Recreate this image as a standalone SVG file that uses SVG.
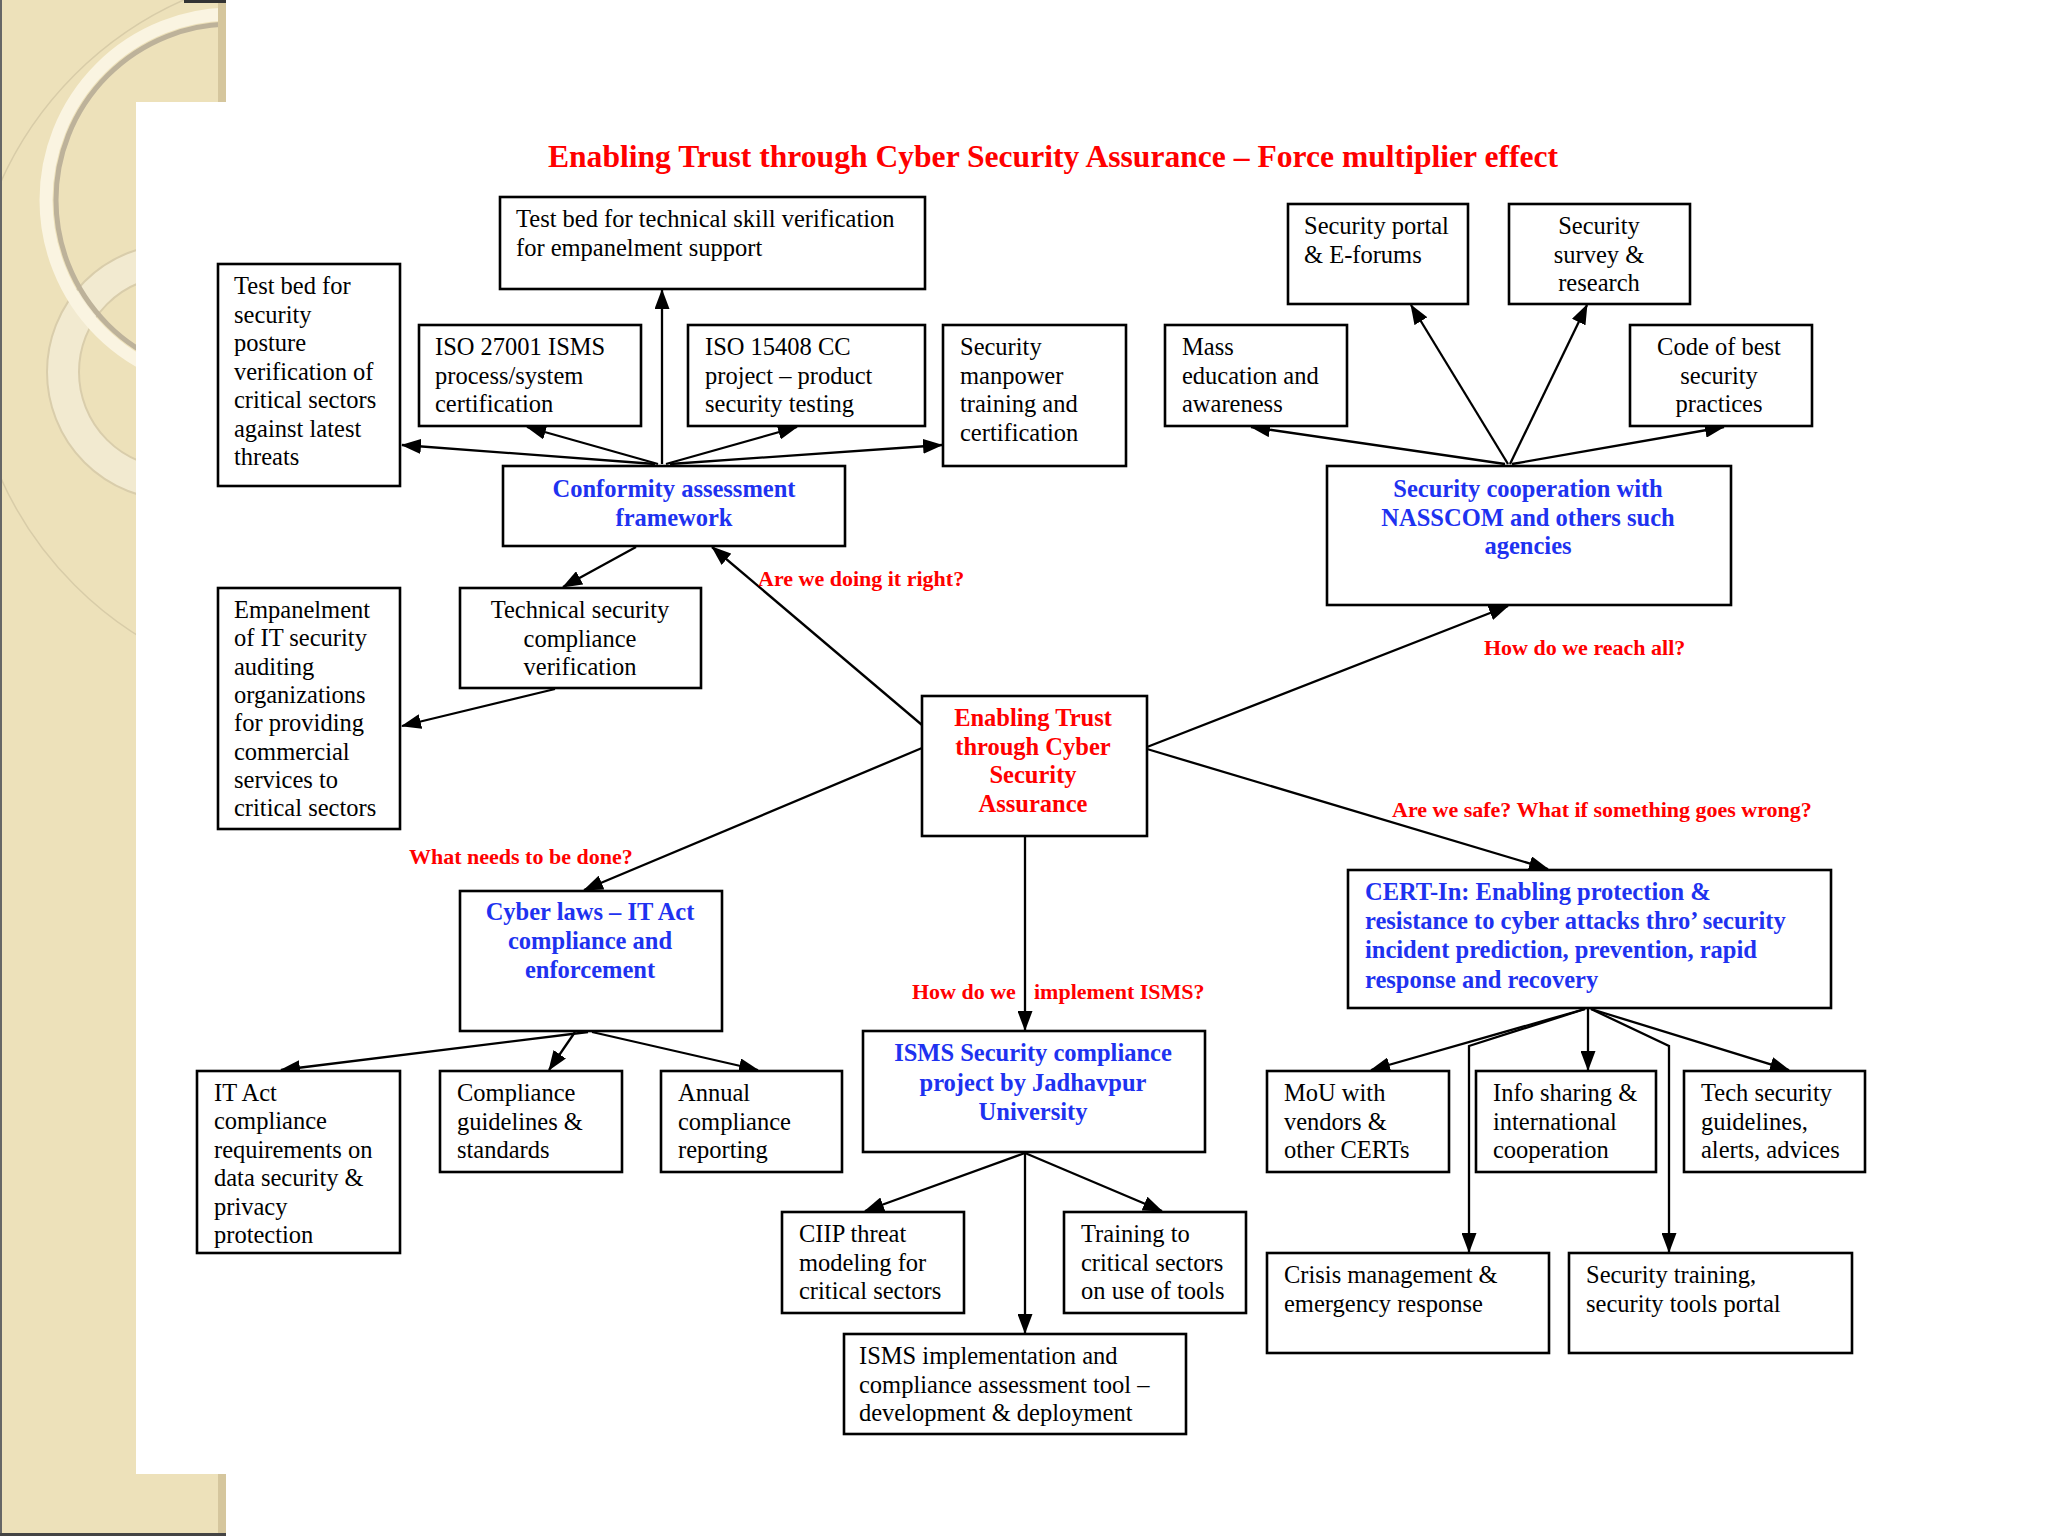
<svg xmlns="http://www.w3.org/2000/svg" width="2048" height="1536" viewBox="0 0 2048 1536">
<defs>
<style>
.box{fill:#fff;stroke:#000;stroke-width:2.6}
.t{font-family:"Liberation Serif","Times New Roman",serif;font-size:24.5px;fill:#000}
.c{text-anchor:middle}
.blue{font-family:"Liberation Serif","Times New Roman",serif;font-size:24.5px;font-weight:bold;fill:#1E32F0}
.red{font-family:"Liberation Serif","Times New Roman",serif;font-size:24.5px;font-weight:bold;fill:#F00}
.lbl{font-family:"Liberation Serif","Times New Roman",serif;font-size:22px;font-weight:bold;fill:#F00}
.con line,.con polyline{stroke:#000;stroke-width:2.3;fill:none;marker-end:url(#ah)}
</style>
<marker id="ah" viewBox="0 0 20 15" refX="19" refY="7.5" markerWidth="20" markerHeight="15" markerUnits="userSpaceOnUse" orient="auto"><path d="M0,0 L20,7.5 L0,15 z" fill="#000"/></marker>
<clipPath id="bg"><rect x="0" y="0" width="226" height="1536"/></clipPath>
</defs>
<rect x="0" y="0" width="2048" height="1536" fill="#fff"/>
<g id="background">
<rect x="0" y="0" width="226" height="1536" fill="#EDE1BA"/>
<g clip-path="url(#bg)" fill="none">
<circle cx="330" cy="330" r="361" stroke="#D8CCA8" stroke-width="1.5"/>
<circle cx="175" cy="372" r="112" stroke="#F2EAD0" stroke-width="32"/>
<circle cx="175" cy="372" r="128" stroke="#D9CDAB" stroke-width="2"/>
<circle cx="175" cy="372" r="96" stroke="#D9CDAB" stroke-width="2"/>
<circle cx="232" cy="200" r="186" stroke="#FAF4E1" stroke-width="13"/>
<circle cx="232" cy="200" r="176" stroke="#BDB29A" stroke-width="5"/>
</g>
<rect x="218" y="0" width="8" height="102" fill="#D5C69D"/>
<rect x="218" y="1474" width="8" height="62" fill="#D5C69D"/>
<rect x="184" y="0" width="42" height="3" fill="#333"/>
<rect x="0" y="0" width="2" height="1536" fill="#666"/>
<rect x="0" y="1533" width="226" height="3" fill="#444"/>
<rect x="136" y="102" width="1912" height="1372" fill="#fff"/>
</g>
<text id="title" x="1053" y="167" text-anchor="middle" font-family="Liberation Serif,Times New Roman,serif" font-size="31.6" font-weight="bold" fill="#F00">Enabling Trust through Cyber Security Assurance – Force multiplier effect</text>
<g id="connectors" class="con">
<line x1="662" y1="464" x2="662" y2="290"/>
<line x1="655" y1="464" x2="402" y2="445"/>
<line x1="658" y1="464" x2="527" y2="427"/>
<line x1="666" y1="464" x2="797" y2="427"/>
<line x1="670" y1="464" x2="942" y2="445"/>
<line x1="636" y1="547" x2="563" y2="587"/>
<line x1="555" y1="689" x2="402" y2="726"/>
<line x1="922" y1="725" x2="712" y2="547"/>
<line x1="922" y1="748" x2="584" y2="890"/>
<line x1="1147" y1="747" x2="1508" y2="606"/>
<line x1="1147" y1="749" x2="1548" y2="869"/>
<line x1="1025" y1="836" x2="1025" y2="1030"/>
<line x1="1505" y1="464" x2="1251" y2="427"/>
<line x1="1508" y1="464" x2="1411" y2="305"/>
<line x1="1510" y1="464" x2="1587" y2="305"/>
<line x1="1512" y1="464" x2="1724" y2="427"/>
<line x1="588" y1="1032" x2="281" y2="1070"/>
<line x1="575" y1="1032" x2="549" y2="1070"/>
<line x1="592" y1="1032" x2="758" y2="1070"/>
<line x1="1025" y1="1153" x2="865" y2="1211"/>
<line x1="1025" y1="1153" x2="1025" y2="1333"/>
<line x1="1025" y1="1153" x2="1162" y2="1211"/>
<line x1="1585" y1="1009" x2="1371" y2="1070"/>
<line x1="1588" y1="1009" x2="1588" y2="1070"/>
<line x1="1591" y1="1009" x2="1789" y2="1070"/>
<polyline points="1585,1009 1469,1046 1469,1252"/>
<polyline points="1591,1009 1669,1046 1669,1252"/>
</g>
<g id="labels">
<text class="lbl" x="758" y="586">Are we doing it right?</text>
<text class="lbl" x="1484" y="655">How do we reach all?</text>
<text class="lbl" x="409" y="864">What needs to be done?</text>
<text class="lbl" x="1392" y="817">Are we safe? What if something goes wrong?</text>
<text class="lbl" x="912" y="999">How do we</text>
<text class="lbl" x="1034" y="999">implement ISMS?</text>
</g>
<g id="n-techskill"><rect class="box" x="500" y="197" width="425" height="92"/>
<text class="t" x="516" y="227">Test bed for technical skill verification<tspan x="516" dy="28.5">for empanelment support</tspan></text></g>
<g id="n-posture"><rect class="box" x="218" y="264" width="182" height="222"/>
<text class="t" x="234" y="294">Test bed for<tspan x="234" dy="28.5">security</tspan><tspan x="234" dy="28.5">posture</tspan><tspan x="234" dy="28.5">verification of</tspan><tspan x="234" dy="28.5">critical sectors</tspan><tspan x="234" dy="28.5">against latest</tspan><tspan x="234" dy="28.5">threats</tspan></text></g>
<g id="n-iso27001"><rect class="box" x="419" y="325" width="222" height="101"/>
<text class="t" x="435" y="355">ISO 27001 ISMS<tspan x="435" dy="28.5">process/system</tspan><tspan x="435" dy="28.5">certification</tspan></text></g>
<g id="n-iso15408"><rect class="box" x="688" y="325" width="237" height="101"/>
<text class="t" x="705" y="355">ISO 15408 CC<tspan x="705" dy="28.5">project – product</tspan><tspan x="705" dy="28.5">security testing</tspan></text></g>
<g id="n-manpower"><rect class="box" x="943" y="325" width="183" height="141"/>
<text class="t" x="960" y="355">Security<tspan x="960" dy="28.5">manpower</tspan><tspan x="960" dy="28.5">training and</tspan><tspan x="960" dy="28.5">certification</tspan></text></g>
<g id="n-conformity"><rect class="box" x="503" y="466" width="342" height="80"/>
<text class="blue c" x="674" y="497">Conformity assessment<tspan x="674" dy="28.5">framework</tspan></text></g>
<g id="n-techsec"><rect class="box" x="460" y="588" width="241" height="100"/>
<text class="t c" x="580" y="618">Technical security<tspan x="580" dy="28.5">compliance</tspan><tspan x="580" dy="28.5">verification</tspan></text></g>
<g id="n-empanel"><rect class="box" x="218" y="588" width="182" height="241"/>
<text class="t" x="234" y="618">Empanelment<tspan x="234" dy="28.3">of IT security</tspan><tspan x="234" dy="28.3">auditing</tspan><tspan x="234" dy="28.3">organizations</tspan><tspan x="234" dy="28.3">for providing</tspan><tspan x="234" dy="28.3">commercial</tspan><tspan x="234" dy="28.3">services to</tspan><tspan x="234" dy="28.3">critical sectors</tspan></text></g>
<g id="n-center"><rect class="box" x="922" y="696" width="225" height="140"/>
<text class="red c" x="1033" y="726">Enabling Trust<tspan x="1033" dy="28.7">through Cyber</tspan><tspan x="1033" dy="28.7">Security</tspan><tspan x="1033" dy="28.7">Assurance</tspan></text></g>
<g id="n-portal"><rect class="box" x="1288" y="204" width="180" height="100"/>
<text class="t" x="1304" y="234">Security portal<tspan x="1304" dy="28.5">&amp; E-forums</tspan></text></g>
<g id="n-survey"><rect class="box" x="1509" y="204" width="181" height="100"/>
<text class="t c" x="1599" y="234">Security<tspan x="1599" dy="28.5">survey &amp;</tspan><tspan x="1599" dy="28.5">research</tspan></text></g>
<g id="n-mass"><rect class="box" x="1165" y="325" width="182" height="101"/>
<text class="t" x="1182" y="355">Mass<tspan x="1182" dy="28.5">education and</tspan><tspan x="1182" dy="28.5">awareness</tspan></text></g>
<g id="n-code"><rect class="box" x="1630" y="325" width="182" height="101"/>
<text class="t c" x="1719" y="355">Code of best<tspan x="1719" dy="28.5">security</tspan><tspan x="1719" dy="28.5">practices</tspan></text></g>
<g id="n-nasscom"><rect class="box" x="1327" y="466" width="404" height="139"/>
<text class="blue c" x="1528" y="497">Security cooperation with<tspan x="1528" dy="28.5">NASSCOM and others such</tspan><tspan x="1528" dy="28.5">agencies</tspan></text></g>
<g id="n-cyberlaws"><rect class="box" x="460" y="891" width="262" height="140"/>
<text class="blue c" x="590" y="920">Cyber laws – IT Act<tspan x="590" dy="29">compliance and</tspan><tspan x="590" dy="29">enforcement</tspan></text></g>
<g id="n-itact"><rect class="box" x="197" y="1071" width="203" height="182"/>
<text class="t" x="214" y="1101">IT Act<tspan x="214" dy="28.4">compliance</tspan><tspan x="214" dy="28.4">requirements on</tspan><tspan x="214" dy="28.4">data security &amp;</tspan><tspan x="214" dy="28.4">privacy</tspan><tspan x="214" dy="28.4">protection</tspan></text></g>
<g id="n-guidelines"><rect class="box" x="440" y="1071" width="182" height="101"/>
<text class="t" x="457" y="1101">Compliance<tspan x="457" dy="28.5">guidelines &amp;</tspan><tspan x="457" dy="28.5">standards</tspan></text></g>
<g id="n-annual"><rect class="box" x="661" y="1071" width="181" height="101"/>
<text class="t" x="678" y="1101">Annual<tspan x="678" dy="28.5">compliance</tspan><tspan x="678" dy="28.5">reporting</tspan></text></g>
<g id="n-isms"><rect class="box" x="863" y="1031" width="342" height="121"/>
<text class="blue c" x="1033" y="1061">ISMS Security compliance<tspan x="1033" dy="29.5">project by Jadhavpur</tspan><tspan x="1033" dy="29.5">University</tspan></text></g>
<g id="n-ciip"><rect class="box" x="782" y="1212" width="182" height="101"/>
<text class="t" x="799" y="1242">CIIP threat<tspan x="799" dy="28.5">modeling for</tspan><tspan x="799" dy="28.5">critical sectors</tspan></text></g>
<g id="n-training"><rect class="box" x="1064" y="1212" width="182" height="101"/>
<text class="t" x="1081" y="1242">Training to<tspan x="1081" dy="28.5">critical sectors</tspan><tspan x="1081" dy="28.5">on use of tools</tspan></text></g>
<g id="n-ismsimpl"><rect class="box" x="844" y="1334" width="342" height="100"/>
<text class="t" x="859" y="1364">ISMS implementation and<tspan x="859" dy="28.5">compliance assessment tool –</tspan><tspan x="859" dy="28.5">development &amp; deployment</tspan></text></g>
<g id="n-cert"><rect class="box" x="1348" y="870" width="483" height="138"/>
<text class="blue" x="1365" y="900">CERT-In: Enabling protection &amp;<tspan x="1365" dy="29">resistance to cyber attacks thro’ security</tspan><tspan x="1365" dy="29">incident prediction, prevention, rapid</tspan><tspan x="1365" dy="30">response and recovery</tspan></text></g>
<g id="n-mou"><rect class="box" x="1267" y="1071" width="182" height="101"/>
<text class="t" x="1284" y="1101">MoU with<tspan x="1284" dy="28.5">vendors &amp;</tspan><tspan x="1284" dy="28.5">other CERTs</tspan></text></g>
<g id="n-info"><rect class="box" x="1476" y="1071" width="180" height="101"/>
<text class="t" x="1493" y="1101">Info sharing &amp;<tspan x="1493" dy="28.5">international</tspan><tspan x="1493" dy="28.5">cooperation</tspan></text></g>
<g id="n-techguide"><rect class="box" x="1684" y="1071" width="181" height="101"/>
<text class="t" x="1701" y="1101">Tech security<tspan x="1701" dy="28.5">guidelines,</tspan><tspan x="1701" dy="28.5">alerts, advices</tspan></text></g>
<g id="n-crisis"><rect class="box" x="1267" y="1253" width="282" height="100"/>
<text class="t" x="1284" y="1283">Crisis management &amp;<tspan x="1284" dy="29">emergency response</tspan></text></g>
<g id="n-sectraining"><rect class="box" x="1569" y="1253" width="283" height="100"/>
<text class="t" x="1586" y="1283">Security training,<tspan x="1586" dy="29">security tools portal</tspan></text></g>
</svg>
